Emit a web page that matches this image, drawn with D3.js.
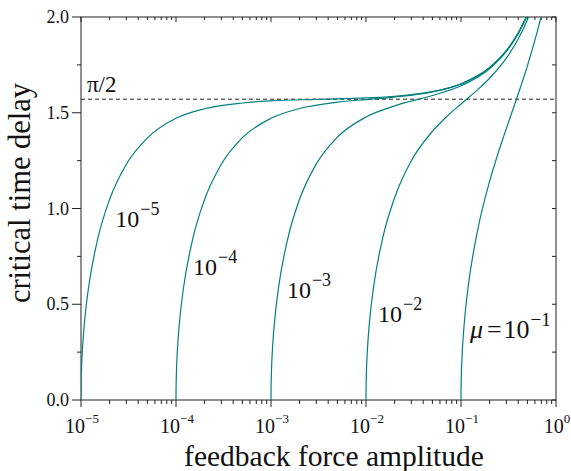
<!DOCTYPE html>
<html>
<head>
<meta charset="utf-8">
<script src="https://cdn.jsdelivr.net/npm/d3@7"></script>
<style>
body{margin:0;background:#fff;overflow:hidden;}
svg{display:block;}
svg text{font-family:"Liberation Serif","Times New Roman",serif;fill:#111;}
</style>
</head>
<body>
<div id="plot"></div>
<script>
//damping values of the five curves and their exponents for the labels
var mu = [1e-5,1e-4,1e-3,1e-2,1e-1];
var muExp = ['\u22125','\u22124','\u22123','\u22122','\u22121'];

//feedback amplitude (x) and critical delay (y)
var kMu5 = [1e-5,1.001e-5,1.003e-5,1.01e-5,1.03e-5,1.05e-5,1.1e-5,1.2e-5,1.5e-5,2e-5,3e-5,5e-5,1e-4,2e-4,5e-4,1e-3,3e-3,1e-2,2e-2,3e-2,5e-2,0.1,0.2,0.3,0.4,0.5];
var tauMu5 = [0,0.045,0.077,0.141,0.243,0.310,0.430,0.586,0.841,1.047,1.231,1.369,1.471,1.521,1.551,1.562,1.570,1.578,1.586,1.595,1.610,1.651,1.736,1.824,1.916,2.012];

var kMu4 = [1e-4,1.001e-4,1.003e-4,1.01e-4,1.03e-4,1.05e-4,1.1e-4,1.2e-4,1.5e-4,2e-4,3e-4,5e-4,1e-3,2e-3,5e-3,1e-2,2e-2,5e-2,0.1,0.2,0.3,0.4,0.5];
var tauMu4 = [0,0.045,0.077,0.141,0.243,0.310,0.430,0.586,0.841,1.047,1.231,1.370,1.471,1.522,1.555,1.569,1.582,1.609,1.650,1.735,1.824,1.916,2.012];

var kMu3 = [1e-3,1.001e-3,1.003e-3,1.01e-3,1.03e-3,1.05e-3,1.1e-3,1.2e-3,1.5e-3,2e-3,3e-3,5e-3,1e-2,2e-2,5e-2,0.1,0.2,0.3,0.4,0.5];
var tauMu3 = [0,0.045,0.077,0.141,0.243,0.310,0.430,0.586,0.842,1.048,1.233,1.373,1.478,1.536,1.590,1.641,1.730,1.820,1.913,2.009];

var kMu2 = [1e-2,1.001e-2,1.003e-2,1.01e-2,1.03e-2,1.05e-2,1.1e-2,1.2e-2,1.5e-2,2e-2,3e-2,5e-2,7e-2,0.1,0.15,0.2,0.3,0.4,0.5,0.55];
var tauMu2 = [0,0.045,0.077,0.141,0.243,0.310,0.431,0.588,0.846,1.056,1.249,1.403,1.478,1.546,1.621,1.680,1.785,1.885,1.986,2.037];

var kMu1 = [0.1,0.1001,0.1003,0.101,0.103,0.105,0.11,0.12,0.15,0.2,0.25,0.3,0.4,0.5,0.6,0.7];
var tauMu1 = [0,0.045,0.078,0.142,0.246,0.315,0.440,0.605,0.889,1.142,1.300,1.417,1.598,1.745,1.879,2.005];

var seriesK = [kMu5,kMu4,kMu3,kMu2,kMu1];
var seriesTau = [tauMu5,tauMu4,tauMu3,tauMu2,tauMu1];

//axis ticks
var xTicks = [1e-5,1e-4,1e-3,1e-2,1e-1,1];
var xTickExp = ['\u22125','\u22124','\u22123','\u22122','\u22121','0'];
var yTicks = [0,0.5,1.0,1.5,2.0];
var yTickLabels = ['0.0','0.5','1.0','1.5','2.0'];
var halfPi = Math.PI/2;

//drawing area
var W = 571, H = 471;
var margin = {t:17,r:15,b:71,l:81};
var width = W-margin.l-margin.r,
	height = H-margin.t-margin.b;

var svg = d3.select('#plot')
	.append('svg')
	.attr('width',W)
	.attr('height',H);

var plot = svg.append('g')
	.attr('transform','translate('+margin.l+','+margin.t+')');

var x = d3.scaleLog().domain([1e-5,1]).range([0,width]);
var y = d3.scaleLinear().domain([0,2]).range([height,0]);

plot.append('clipPath').attr('id','clip')
	.append('rect').attr('width',width).attr('height',height);

//minor ticks
var xMinor = [];
for(var d=-5; d<0; d++){
	for(var m=2; m<10; m++){ xMinor.push(m*Math.pow(10,d)); }
}
var yMinor = [0.25,0.75,1.25,1.75];

//bottom axis (ticks outward)
var axBottom = plot.append('g').attr('transform','translate(0,'+height+')');
axBottom.selectAll('.maj').data(xTicks).enter().append('line')
	.attr('x1',function(d){return x(d);}).attr('x2',function(d){return x(d);})
	.attr('y1',0).attr('y2',7);
axBottom.selectAll('.min').data(xMinor).enter().append('line')
	.attr('x1',function(d){return x(d);}).attr('x2',function(d){return x(d);})
	.attr('y1',0).attr('y2',4);
var xl = axBottom.selectAll('text').data(xTicks).enter().append('text')
	.attr('x',function(d){return x(d)+1;})
	.attr('y',33)
	.attr('text-anchor','middle')
	.style('font-size','20px');
xl.append('tspan').text('10');
xl.append('tspan').attr('dy',-10).style('font-size','13px')
	.text(function(d,i){return xTickExp[i];});

//top axis (ticks inward)
var axTop = plot.append('g');
axTop.selectAll('.maj').data(xTicks).enter().append('line')
	.attr('x1',function(d){return x(d);}).attr('x2',function(d){return x(d);})
	.attr('y1',0).attr('y2',5);
axTop.selectAll('.min').data(xMinor).enter().append('line')
	.attr('x1',function(d){return x(d);}).attr('x2',function(d){return x(d);})
	.attr('y1',0).attr('y2',3);

//left axis (ticks outward)
var axLeft = plot.append('g');
axLeft.selectAll('.maj').data(yTicks).enter().append('line')
	.attr('y1',function(d){return y(d);}).attr('y2',function(d){return y(d);})
	.attr('x1',0).attr('x2',-9);
axLeft.selectAll('.min').data(yMinor).enter().append('line')
	.attr('y1',function(d){return y(d);}).attr('y2',function(d){return y(d);})
	.attr('x1',0).attr('x2',-4);
axLeft.selectAll('text').data(yTicks).enter().append('text')
	.attr('x',-12)
	.attr('y',function(d){return y(d)+6;})
	.attr('text-anchor','end')
	.style('font-size','18px')
	.text(function(d,i){return yTickLabels[i];});

//right axis (ticks inward)
var axRight = plot.append('g').attr('transform','translate('+width+',0)');
axRight.selectAll('line').data(yTicks.concat(yMinor)).enter().append('line')
	.attr('y1',function(d){return y(d);}).attr('y2',function(d){return y(d);})
	.attr('x1',0).attr('x2',-4);

plot.selectAll('line').style('stroke','#222').style('stroke-width',1);

//frame
plot.append('rect')
	.attr('width',width).attr('height',height)
	.style('fill','none').style('stroke','#222').style('stroke-width',1);

//pi/2 dashed line
plot.append('line')
	.attr('x1',0).attr('x2',width)
	.attr('y1',y(halfPi)).attr('y2',y(halfPi))
	.style('stroke','#222').style('stroke-width',1)
	.style('stroke-dasharray','4,3');
plot.append('text')
	.attr('x',6).attr('y',y(halfPi)-7)
	.style('font-size','23px')
	.text('\u03c0/2');

//curves
var line = d3.line()
	.x(function(d){return x(d[0]);})
	.y(function(d){return y(d[1]);})
	.curve(d3.curveMonotoneX);

seriesK.forEach(function(ks,i){
	var pts = ks.map(function(k,j){return [k,seriesTau[i][j]];});
	plot.append('path')
		.datum(pts)
		.attr('clip-path','url(#clip)')
		.attr('d',line)
		.style('fill','none')
		.style('stroke','#00807f')
		.style('stroke-width',1.2);
});

//curve labels
var labelAt = [[2.3e-5,0.903],[1.51e-4,0.653],[1.47e-3,0.533],[1.34e-2,0.407],[0.124,0.324]];
labelAt.forEach(function(p,i){
	var t = plot.append('text')
		.attr('x',x(p[0]))
		.attr('y',y(p[1]))
		.style('font-size',i==4?'26px':'24px');
	if(i==4){
		t.append('tspan').style('font-style','italic').text('\u03bc');
		t.append('tspan').attr('dx',4).text('=');
	}
	t.append('tspan').attr('dx',i==4?2:0).text('10');
	t.append('tspan').attr('dy',-12).attr('dx',1).style('font-size',i==4?'19px':'18px').text(muExp[i]);
});

//axis titles
svg.append('text')
	.attr('x',334)
	.attr('y',H-5)
	.attr('text-anchor','middle')
	.style('font-size','29.5px')
	.text('feedback force amplitude');

svg.append('text')
	.attr('transform','translate(30,193) rotate(-90)')
	.attr('text-anchor','middle')
	.style('font-size','30.5px')
	.text('critical time delay');
</script>
</body>
</html>
